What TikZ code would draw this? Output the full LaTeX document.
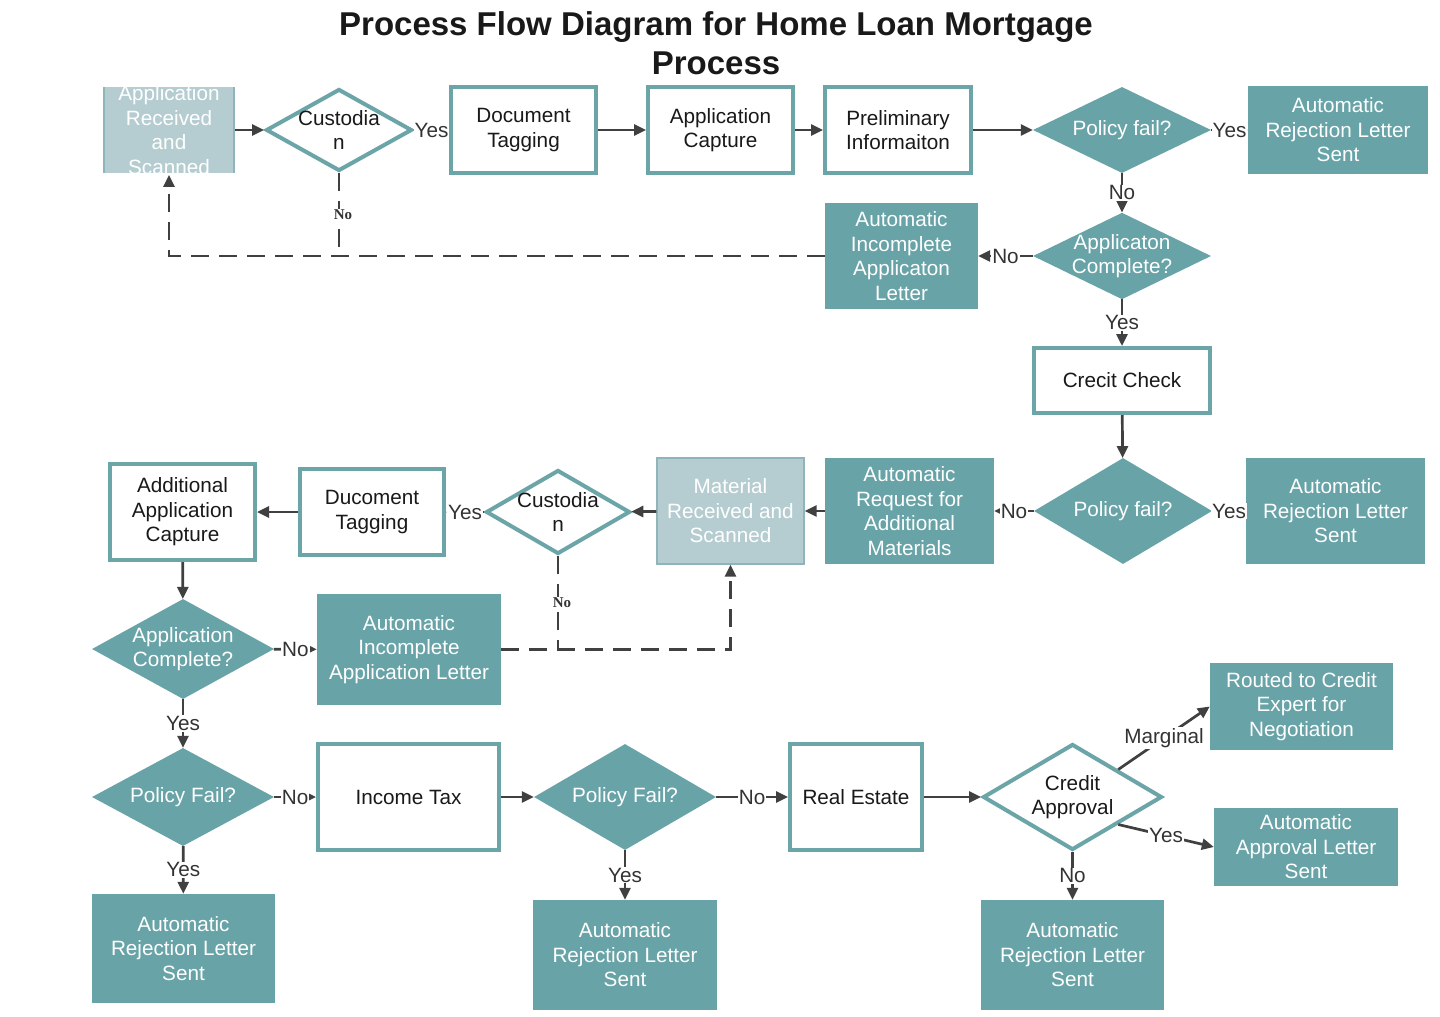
\documentclass[tikz,border=0pt]{standalone}
\usepackage{fontspec}
\setmainfont{Liberation Sans}
\newfontfamily\noserif{Liberation Serif}
\usetikzlibrary{shapes.geometric,arrows.meta}

\definecolor{tealfill}{HTML}{68A3A7}
\definecolor{tealedge}{HTML}{6BA5A8}
\definecolor{lightfill}{HTML}{B5CDD1}
\definecolor{lightedge}{HTML}{8FB5BA}
\definecolor{arrowgray}{HTML}{404040}
\definecolor{labelgray}{HTML}{333333}

\begin{document}
\begin{tikzpicture}[x=1pt,y=-1pt,
    every node/.style={font=\fontsize{20.7}{24.5}\selectfont, align=center, text=black!90},
    outbox/.style={draw=tealedge, line width=4pt, fill=white, inner sep=0pt},
    fillbox/.style={fill=tealfill, text=white, inner sep=0pt},
    lightbox/.style={fill=lightfill, draw=lightedge, line width=1.2pt, text=white, inner sep=0pt},
    outdia/.style={diamond, aspect=1.8, draw=tealedge, line width=4pt, fill=white, inner xsep=-8pt, inner ysep=-2pt},
    filldia/.style={diamond, aspect=1.8, fill=tealfill, text=white, inner xsep=-8pt, inner ysep=-2pt},
    flow/.style={draw=arrowgray, line width=2.7pt, -{Triangle[length=12pt,width=11pt]}},
    dashflow/.style={flow, dash pattern=on 18pt off 10pt},
    lbl/.style={fill=white, inner sep=1pt, text=labelgray},
    nolbl/.style={fill=white, inner sep=1pt, text=labelgray, font=\noserif\bfseries\fontsize{15}{18}\selectfont}
  ]

    \useasboundingbox[fill=white] (0,0) rectangle (1440,1017);

    % --- 1. Title ---
    \node[font=\bfseries\fontsize{33}{39}\selectfont] (title) at (716,43)
      {Process Flow Diagram for Home Loan Mortgage\\Process};

    % --- 2. First row: intake of the application ---
    % the received box lets its text run over the edge, so it is clipped
    \begin{scope}
      \clip (90,87) rectangle (250,172);
      \node[lightbox, minimum width=130, minimum height=78] (recv1) at (169,130)
        {Application\\Received\\and\\Scanned};
    \end{scope}
    \node[outdia, minimum width=146, minimum height=82] (cust1) at (339,130) {Custodia\\n};
    \node[outbox, minimum width=145, minimum height=86] (tag1) at (523.5,130) {Document\\Tagging};
    \node[outbox, minimum width=145, minimum height=86] (capt1) at (720.5,130) {Application\\Capture};
    \node[outbox, minimum width=146, minimum height=86] (prelim) at (898,130) {Preliminary\\Informaiton};
    \node[filldia, minimum width=178, minimum height=86] (pol1) at (1122,130) {Policy fail?};
    \node[fillbox, minimum width=180, minimum height=88] (rej1) at (1338,130) {Automatic\\Rejection Letter\\Sent};

    \node[filldia, minimum width=178, minimum height=86] (comp1) at (1122,256) {Applicaton\\Complete?};
    \node[fillbox, minimum width=153, minimum height=106] (inc1) at (901.5,256)
      {Automatic\\Incomplete\\Applicaton\\Letter};
    \node[outbox, minimum width=176, minimum height=65] (credit) at (1122,380.5) {Crecit Check};

    % --- 3. Second row: extra materials ---
    \node[filldia, minimum width=178, minimum height=106] (pol2) at (1123,511) {Policy fail?};
    \node[fillbox, minimum width=179, minimum height=106] (rej2) at (1335.5,511) {Automatic\\Rejection Letter\\Sent};
    \node[fillbox, minimum width=169, minimum height=106] (req) at (909.5,511)
      {Automatic\\Request for\\Additional\\Materials};
    \node[lightbox, minimum width=147, minimum height=106] (recv2) at (730.5,511)
      {Material\\Received and\\Scanned};
    \node[outdia, minimum width=144, minimum height=84] (cust2) at (558,512) {Custodia\\n};
    \node[outbox, minimum width=144, minimum height=86] (tag2) at (372,512) {Ducoment\\Tagging};
    \node[outbox, minimum width=145, minimum height=96] (addl) at (182.5,512)
      {Additional\\Application\\Capture};

    \node[filldia, minimum width=182, minimum height=100] (comp2) at (183,649) {Application\\Complete?};
    \node[fillbox, minimum width=184, minimum height=111] (inc2) at (409,649.5)
      {Automatic\\Incomplete\\Application Letter};

    % --- 4. Third row: checks and approval ---
    \node[filldia, minimum width=182, minimum height=98] (pol3) at (183,797) {Policy Fail?};
    \node[outbox, minimum width=181, minimum height=106] (tax) at (408.5,797) {Income Tax};
    \node[filldia, minimum width=182, minimum height=106] (pol4) at (625,797) {Policy Fail?};
    \node[outbox, minimum width=132, minimum height=106] (estate) at (856,797) {Real Estate};
    \node[outdia, minimum width=179, minimum height=106] (approv) at (1072.5,797) {Credit\\Approval};

    \node[fillbox, minimum width=183, minimum height=87] (route) at (1301.5,706.5)
      {Routed to Credit\\Expert for\\Negotiation};
    \node[fillbox, minimum width=184, minimum height=78] (appl) at (1306,847)
      {Automatic\\Approval Letter\\Sent};
    \node[fillbox, minimum width=183, minimum height=109] (rej3) at (183.5,948.5) {Automatic\\Rejection Letter\\Sent};
    \node[fillbox, minimum width=184, minimum height=110] (rej4) at (625,955) {Automatic\\Rejection Letter\\Sent};
    \node[fillbox, minimum width=183, minimum height=110] (rej5) at (1072.5,955) {Automatic\\Rejection Letter\\Sent};

    % --- 5. Connectors, first part ---
    \draw[flow] (recv1) -- (cust1);
    \draw[flow] (cust1) -- node[lbl] {Yes} (tag1);
    \draw[flow] (tag1) -- (capt1);
    \draw[flow] (capt1) -- (prelim);
    \draw[flow] (prelim) -- (pol1);
    \draw[flow] (pol1) -- node[lbl] {Yes} (rej1);
    \draw[flow] (pol1) -- node[lbl] {No} (comp1);
    \draw[flow] (comp1) -- node[lbl] {No} (inc1);
    \draw[flow] (comp1) -- node[lbl] {Yes} (credit);

    % dashed return loop to the received box
    \coordinate (loop1) at (cust1.south |- inc1.west);
    \draw[dashflow] (inc1.west) -| (recv1.south);
    \draw[dashflow, -] (cust1.south) -- node[nolbl, xshift=4pt] {No} (loop1);

    % --- 6. Connectors, second part ---
    \draw[flow] (credit) -- (pol2);
    \draw[flow] (pol2) -- node[lbl] {Yes} (rej2);
    \draw[flow] (pol2) -- node[lbl] {No} (req);
    \draw[flow] (req) -- (recv2);
    \draw[flow] (recv2) -- (cust2);
    \draw[flow] (cust2) -- node[lbl] {Yes} (tag2);
    \draw[flow] (tag2) -- (addl);
    \draw[flow] (addl) -- (comp2);
    \draw[flow] (comp2) -- node[lbl] {No} (inc2);
    \draw[flow] (comp2) -- node[lbl] {Yes} (pol3);

    \coordinate (loop2) at (cust2.south |- inc2.east);
    \draw[dashflow] (inc2.east) -| (recv2.south);
    \draw[dashflow, -] (cust2.south) -- node[nolbl, xshift=4pt] {No} (loop2);

    % --- 7. Connectors, third part ---
    \draw[flow] (pol3) -- node[lbl] {No} (tax);
    \draw[flow] (pol3) -- node[lbl] {Yes} (rej3);
    \draw[flow] (tax) -- (pol4);
    \draw[flow] (pol4) -- node[lbl] {No} (estate);
    \draw[flow] (pol4) -- node[lbl] {Yes} (rej4);
    \draw[flow] (estate) -- (approv);
    \draw[flow] (approv.north east) -- node[lbl] {Marginal} (route.west);
    \draw[flow] (approv.south east) -- node[lbl] {Yes} (appl.west);
    \draw[flow] (approv) -- node[lbl] {No} (rej5);

\end{tikzpicture}
\end{document}
